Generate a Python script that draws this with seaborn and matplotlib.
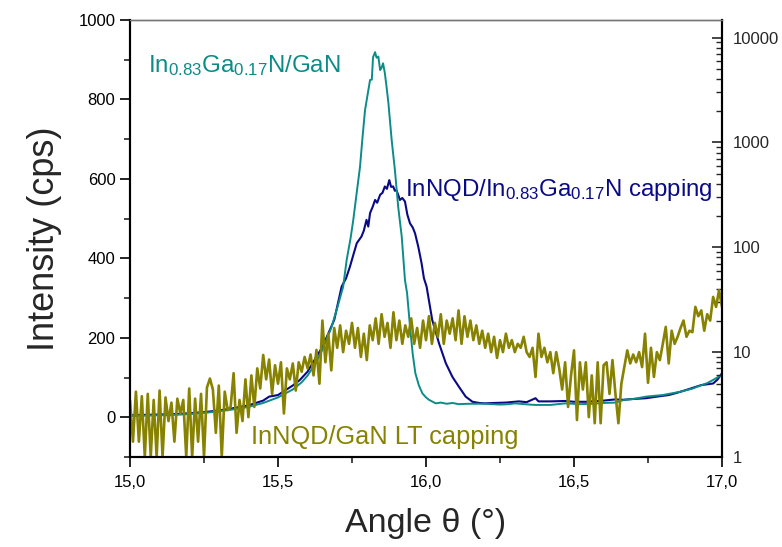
import numpy as np
import pandas as pd
import matplotlib
matplotlib.use("Agg")
import matplotlib.pyplot as plt
from matplotlib.ticker import FuncFormatter, MultipleLocator, LogLocator, NullFormatter
import seaborn as sns

# ---------------- data ----------------
teal_x = [15.00, 15.05, 15.10, 15.15, 15.20, 15.25, 15.30, 15.35, 15.40, 15.45, 15.50, 15.55, 15.58,
          15.60, 15.63, 15.65, 15.68, 15.70, 15.72, 15.732, 15.745, 15.754, 15.765, 15.777, 15.785,
          15.794, 15.800, 15.811, 15.817, 15.821, 15.828, 15.833, 15.839, 15.845, 15.850, 15.855,
          15.861, 15.867, 15.873, 15.884, 15.895, 15.906, 15.918, 15.929, 15.936, 15.947, 15.955,
          15.964, 15.976, 15.988, 16.00, 16.01, 16.02, 16.033, 16.05, 16.07, 16.09, 16.11, 16.145,
          16.20, 16.25, 16.28, 16.30, 16.35, 16.37, 16.42, 16.47, 16.52, 16.56, 16.60, 16.64, 16.67,
          16.70, 16.744, 16.80, 16.857, 16.90, 16.913, 16.95, 16.97, 17.00]
teal_y = [3, 4, 5, 6, 8, 11, 15, 20, 26, 36, 50, 70, 88,
          105, 140, 170, 225, 275, 328, 396, 450, 495, 560, 630, 700,
          773, 800, 849, 850, 906, 919, 905, 908, 874, 880, 891,
          866, 830, 791, 698, 622, 530, 455, 345, 313, 220, 160,
          111, 80, 60, 50, 44, 40, 35, 37, 34, 36, 33, 34,
          34, 32, 33, 35, 32, 31, 31, 35, 33, 34, 36, 37, 44,
          46, 52, 56, 64, 72, 76, 86, 94, 107]

navy_x = [15.00, 15.05, 15.10, 15.15, 15.20, 15.25, 15.30, 15.35, 15.40, 15.45, 15.47, 15.50, 15.55,
          15.574, 15.60, 15.62, 15.65, 15.69, 15.715, 15.73, 15.743, 15.755, 15.766, 15.782, 15.79,
          15.799, 15.805, 15.811, 15.82, 15.828, 15.835, 15.845, 15.853, 15.861, 15.868, 15.876,
          15.882, 15.889, 15.895, 15.90, 15.906, 15.912, 15.92, 15.929, 15.937, 15.946, 15.955,
          15.963, 15.974, 15.985, 15.993, 16.002, 16.021, 16.044, 16.067, 16.089, 16.111, 16.134,
          16.157, 16.18, 16.20, 16.23, 16.27, 16.314, 16.34, 16.37, 16.38, 16.42, 16.47, 16.50,
          16.54, 16.60, 16.64, 16.666, 16.70, 16.744, 16.78, 16.82, 16.85, 16.88, 16.93, 16.97,
          16.985, 17.00]
navy_y = [5, 6, 7, 8, 10, 13, 17, 23, 30, 42, 52, 56, 80,
          94, 115, 140, 177, 245, 329, 350, 379, 410, 438, 455, 470,
          497, 480, 514, 530, 547, 540, 560, 565, 581, 575, 597,
          580, 581, 570, 572, 560, 547, 552, 543, 510, 488, 478,
          463, 429, 388, 350, 329, 245, 186, 136, 102, 77, 52,
          39, 36, 35, 36, 37, 40, 38, 48, 40, 40, 41, 39,
          39, 42, 45, 44, 46, 48, 52, 56, 62, 69, 81, 85,
          95, 111]

# olive series (log axis), scan from 15.00 to 17.00 deg in 0.01 deg steps
olive_y = [3.5, 1.4, 4.2, 1.4, 3.8, 1, 4.0, 1, 3.5, 1,
           4.3, 1, 3.7, 2.2, 3.3, 1.4, 3.6, 2.6, 3.5, 1,
           4.5, 1, 3.6, 1.4, 4.0, 1, 4.6, 5.6, 4.4, 1.7,
           4.8, 1, 4.2, 2.8, 3.0, 6.3, 1.7, 3.5, 2.2, 5.5,
           2.4, 6.0, 3.0, 7.0, 4.5, 9.4, 5.5, 8.5, 4.0, 7.5,
           5.0, 8.0, 2.6, 7.0, 5.5, 7.8, 4.3, 8.0, 6.5, 9.0,
           7.0, 9.5, 6.0, 10.5, 5.0, 20, 8.0, 15, 6.7, 17,
           11, 18, 10, 16, 12, 19, 11, 17, 9, 15,
           8.4, 18, 13, 21, 12, 23, 14, 19, 11, 24,
           13, 20, 12, 18, 14, 21, 12, 17, 11, 20,
           13, 22, 12, 19, 14, 23, 12, 20, 15, 21,
           13, 25, 12, 22, 14, 20, 13, 18, 12, 16,
           11, 15, 10, 14, 8.8, 13, 10, 15, 11, 13,
           10, 12, 11, 14, 10, 9, 11, 5.8, 15, 9,
           11, 8, 10, 6.3, 10, 7, 4.4, 8, 3.0, 6,
           10.4, 2.25, 8, 4.4, 8, 2.4, 6, 2.1, 8, 2.1,
           7.5, 8, 4, 8.4, 4.0, 2.1, 5, 7.2, 10.4, 7.8,
           9.5, 8, 10, 7.2, 15, 5.1, 11, 5.8, 10, 8.4,
           12, 17.4, 7.8, 16, 12, 14, 17, 20, 14, 16,
           15.5, 27, 22, 25, 16, 23, 20, 33.6, 27, 39,
           27]
olive_x = list(np.round(np.linspace(15.0, 17.0, len(olive_y)), 3))

x_ticks = [15.0, 15.5, 16.0, 16.5, 17.0]
left_ticks = [0, 200, 400, 600, 800, 1000]
right_ticks = [1, 10, 100, 1000, 10000]

C_TEAL = "#0b8c87"
C_NAVY = "#0a0a86"
C_OLIVE = "#878200"

# ---------------- plotting ----------------
sns.set_style("ticks")
plt.rcParams["font.family"] = ["Liberation Sans", "DejaVu Sans"]
plt.rcParams["mathtext.fontset"] = "custom"
plt.rcParams["mathtext.rm"] = "Liberation Sans"
plt.rcParams["mathtext.it"] = "Liberation Sans"
plt.rcParams["mathtext.default"] = "regular"

fig = plt.figure(figsize=(7.82, 5.47), dpi=100)
ax = fig.add_axes([130 / 782, 1 - 457 / 547, 592 / 782, 437 / 547])

df_t = pd.DataFrame({"x": teal_x, "y": teal_y})
df_n = pd.DataFrame({"x": navy_x, "y": navy_y})
df_o = pd.DataFrame({"x": olive_x, "y": olive_y})

sns.lineplot(data=df_n, x="x", y="y", ax=ax, color=C_NAVY, lw=1.5, sort=False, estimator=None)
sns.lineplot(data=df_t, x="x", y="y", ax=ax, color=C_TEAL, lw=1.4, sort=False, estimator=None)

ax.set_xlim(15.0, 17.0)
ax.set_ylim(-100, 1000)
ax.set_xticks(x_ticks)
ax.xaxis.set_minor_locator(MultipleLocator(0.25))
ax.set_yticks(left_ticks)
ax.yaxis.set_minor_locator(MultipleLocator(100))
ax.xaxis.set_major_formatter(FuncFormatter(lambda v, p: f"{v:.1f}".replace(".", ",")))
ax.tick_params(axis="both", which="major", direction="out", length=7, width=1.2,
               labelsize=12, colors="black")
ax.tick_params(axis="both", which="minor", direction="out", length=4, width=1.2)
ax.tick_params(axis="x", pad=6)
ax.set_xlabel("Angle θ (°)", fontsize=24.5, labelpad=13)
ax.set_ylabel("Intensity (cps)", fontsize=26, labelpad=12)

ax2 = ax.twinx()
sns.lineplot(data=df_o, x="x", y="y", ax=ax2, color=C_OLIVE, lw=1.9, sort=False, estimator=None)
ax2.set_yscale("log")
ax2.set_ylim(1, 14700)
ax2.set_xlim(15.0, 17.0)
ax2.set_yticks(right_ticks)
ax2.yaxis.set_minor_locator(LogLocator(base=10, subs=np.arange(2, 10)))
ax2.yaxis.set_minor_formatter(NullFormatter())
ax2.yaxis.set_major_formatter(FuncFormatter(lambda v, p: f"{int(round(v))}"))
ax2.tick_params(axis="y", which="major", direction="in", length=7, width=1.2, labelsize=12, pad=8)
ax2.tick_params(axis="y", which="minor", direction="in", length=4, width=1.0)
ax2.set_ylabel("")
ax2.set_xlabel("")

for a in (ax, ax2):
    for s in ("left", "bottom", "right"):
        a.spines[s].set_linewidth(1.5)
        a.spines[s].set_color("black")
    a.spines["top"].set_visible(True)
    a.spines["top"].set_color("#777777")
    a.spines["top"].set_linewidth(1.0)

# annotations (in data coordinates of the linear axis)
ax.text(15.06, 870, r"In$_{0.83}$Ga$_{0.17}$N/GaN", color=C_TEAL, fontsize=17.3, va="baseline")
ax.text(15.93, 557, r"InNQD/In$_{0.83}$Ga$_{0.17}$N capping", color=C_NAVY, fontsize=17.3, va="baseline")
ax.text(15.41, -68, "InNQD/GaN LT capping", color=C_OLIVE, fontsize=18.3, va="baseline")

fig.savefig("out.png", dpi=100)
